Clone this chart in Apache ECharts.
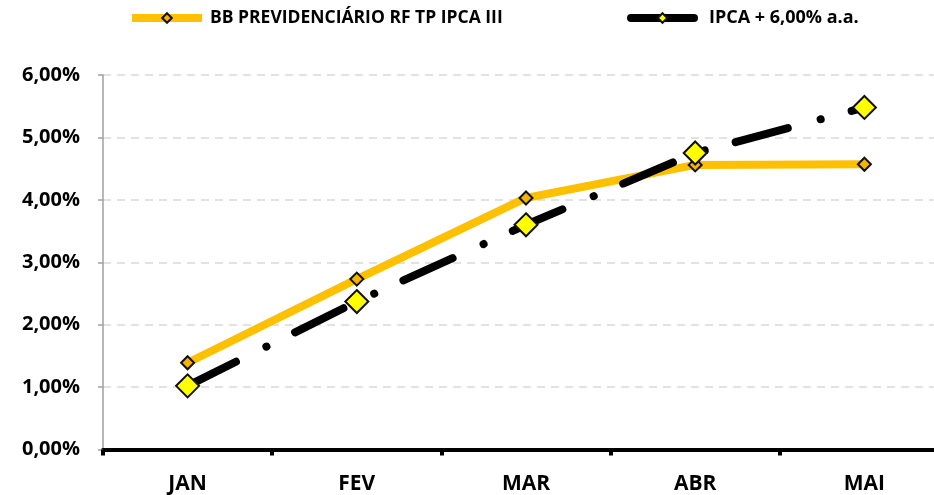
<!DOCTYPE html>
<html>
<head>
<meta charset="utf-8">
<script src="https://cdn.jsdelivr.net/npm/echarts@6/dist/echarts.min.js"></script>
<style>
  html, body { margin: 0; padding: 0; background: #fff; }
  #chart { width: 934px; height: 495px; }
</style>
</head>
<body>
<div id="chart"></div>
<script>
  // dados do gráfico
  var meses = ['JAN', 'FEV', 'MAR', 'ABR', 'MAI'];
  var fundo = [1.39, 2.73, 4.03, 4.56, 4.57];
  var meta = [1.02, 2.37, 3.60, 4.75, 5.48];
  var nomeFundo = 'BB PREVIDENCIÁRIO RF TP IPCA III';
  var nomeMeta = 'IPCA + 6,00% a.a.';

  var fonte = '"Open Sans", sans-serif';

  var chart = echarts.init(document.getElementById('chart'));

  chart.setOption({
    animation: false,
    backgroundColor: '#fff',
    legend: [{
      left: 123, top: 4,
      itemWidth: 70, itemHeight: 12,
      data: [nomeFundo],
      lineStyle: { width: 8 },
      textStyle: { fontFamily: fonte, fontWeight: 'bold', fontSize: 17.5, color: '#000', padding: [0, 0, 0, 3] }
    }, {
      left: 622, top: 4,
      itemWidth: 63, itemHeight: 12,
      data: [nomeMeta],
      lineStyle: { type: 'solid', width: 8 },
      textStyle: { fontFamily: fonte, fontWeight: 'bold', fontSize: 18, color: '#000', padding: [0, 0, 0, 10] }
    }],
    grid: { left: 103, right: -15, top: 75, bottom: 45.5, outerBoundsMode: 'none' },
    xAxis: {
      type: 'category',
      data: meses,
      boundaryGap: true,
      axisLine: { lineStyle: { color: '#000', width: 4 } },
      axisTick: { show: true, length: 6, lineStyle: { color: '#000', width: 4 } },
      axisLabel: { fontFamily: fonte, fontWeight: 'bold', fontSize: 21, color: '#000', margin: 24 }
    },
    yAxis: {
      type: 'value',
      min: 0, max: 6, interval: 1,
      axisLine: { show: true, lineStyle: { color: '#a0a0a0', width: 1.5 } },
      axisTick: { show: true, length: 5, lineStyle: { color: '#a0a0a0', width: 1.5 } },
      splitLine: { lineStyle: { color: '#d9d9d9', width: 1.5, type: [8, 6] } },
      axisLabel: {
        fontFamily: fonte, fontWeight: 'bold', fontSize: 20, color: '#000', margin: 23,
        formatter: function (v) { return v.toFixed(2).replace('.', ',') + '%'; }
      }
    },
    series: [{
      name: nomeFundo,
      type: 'line',
      data: fundo,
      symbol: 'diamond',
      symbolSize: 13,
      showAllSymbol: true,
      lineStyle: { color: '#ffc000', width: 8 },
      itemStyle: { color: '#f5b400', borderColor: '#111', borderWidth: 2 },
      z: 2
    }, {
      name: nomeMeta,
      type: 'line',
      data: meta,
      symbol: 'diamond',
      symbolSize: 23,
      showAllSymbol: true,
      lineStyle: { color: '#000', width: 8, type: [54, 34, 0.1, 32], cap: 'round' },
      itemStyle: { color: '#ffff00', borderColor: '#111', borderWidth: 2 },
      z: 3
    }]
  });
</script>
</body>
</html>
